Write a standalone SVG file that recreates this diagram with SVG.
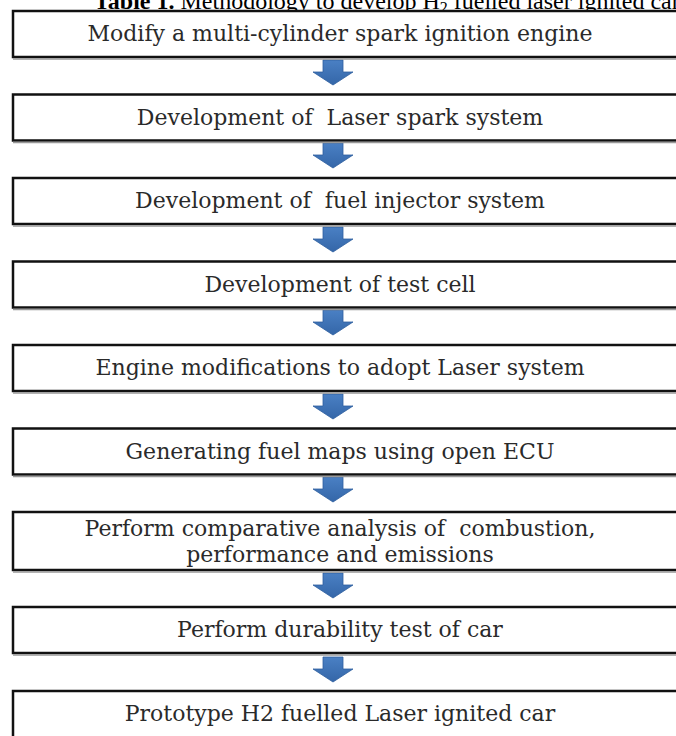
<svg xmlns="http://www.w3.org/2000/svg" width="676" height="736" viewBox="0 0 676 736">
<style>
.box{fill:#fff;stroke:#111;stroke-width:2.5}
.sh{fill:none;stroke:#999;stroke-width:1.5}
.t{font-family:"DejaVu Serif","Liberation Serif",serif;font-size:22px;fill:#2a2a2a;text-anchor:middle;white-space:pre}
.arr{fill:url(#ag);stroke:#2d5e9e;stroke-width:0.8}
.title{font-family:"Liberation Serif",serif;font-size:24px;fill:#000}
</style>
<defs>
<linearGradient id="ag" x1="0" y1="0" x2="0" y2="1"><stop offset="0" stop-color="#4a80c4"/><stop offset="1" stop-color="#3466a8"/></linearGradient>
</defs>
<text class="title" x="94" y="9"><tspan font-weight="bold">Table 1.</tspan> Methodology to develop H<tspan font-size="16" dy="4">2</tspan><tspan dy="-4"> fuelled laser ignited car</tspan></text>
<g id="connectors">
<path class="arr" d="M323,60 h20 v12 h10 l-20,13 l-20,-13 h10 z"/>
<path class="arr" d="M323,143 h20 v12 h10 l-20,13 l-20,-13 h10 z"/>
<path class="arr" d="M323,227 h20 v12 h10 l-20,13 l-20,-13 h10 z"/>
<path class="arr" d="M323,310 h20 v12 h10 l-20,13 l-20,-13 h10 z"/>
<path class="arr" d="M323,394 h20 v12 h10 l-20,13 l-20,-13 h10 z"/>
<path class="arr" d="M323,477 h20 v12 h10 l-20,13 l-20,-13 h10 z"/>
<path class="arr" d="M323,573 h20 v12 h10 l-20,13 l-20,-13 h10 z"/>
<path class="arr" d="M323,657 h20 v12 h10 l-20,13 l-20,-13 h10 z"/>
</g>
<g id="n1"><rect class="box" x="13" y="11" width="700" height="46"/><line class="sh" x1="13" y1="59" x2="676" y2="59"/><text class="t" x="340" y="41">Modify a multi-cylinder spark ignition engine</text></g>
<g id="n2"><rect class="box" x="13" y="94.5" width="700" height="46"/><line class="sh" x1="13" y1="142.5" x2="676" y2="142.5"/><text class="t" x="340" y="124.5">Development of  Laser spark system</text></g>
<g id="n3"><rect class="box" x="13" y="178" width="700" height="46"/><line class="sh" x1="13" y1="226" x2="676" y2="226"/><text class="t" x="340" y="208">Development of  fuel injector system</text></g>
<g id="n4"><rect class="box" x="13" y="261.5" width="700" height="46"/><line class="sh" x1="13" y1="309.5" x2="676" y2="309.5"/><text class="t" x="340" y="291.5">Development of test cell</text></g>
<g id="n5"><rect class="box" x="13" y="345" width="700" height="46"/><line class="sh" x1="13" y1="393" x2="676" y2="393"/><text class="t" x="340" y="375">Engine modifications to adopt Laser system</text></g>
<g id="n6"><rect class="box" x="13" y="428.5" width="700" height="46"/><line class="sh" x1="13" y1="476.5" x2="676" y2="476.5"/><text class="t" x="340" y="458.5">Generating fuel maps using open ECU</text></g>
<g id="n7"><rect class="box" x="13" y="512" width="700" height="58"/><line class="sh" x1="13" y1="572" x2="676" y2="572"/><text class="t" x="340" y="536">Perform comparative analysis of  combustion,</text><text class="t" x="340" y="562">performance and emissions</text></g>
<g id="n8"><rect class="box" x="13" y="607" width="700" height="46"/><line class="sh" x1="13" y1="655" x2="676" y2="655"/><text class="t" x="340" y="637">Perform durability test of car</text></g>
<g id="n9"><rect class="box" x="13" y="691" width="700" height="60"/><text class="t" x="340" y="721">Prototype H2 fuelled Laser ignited car</text></g>
</svg>
